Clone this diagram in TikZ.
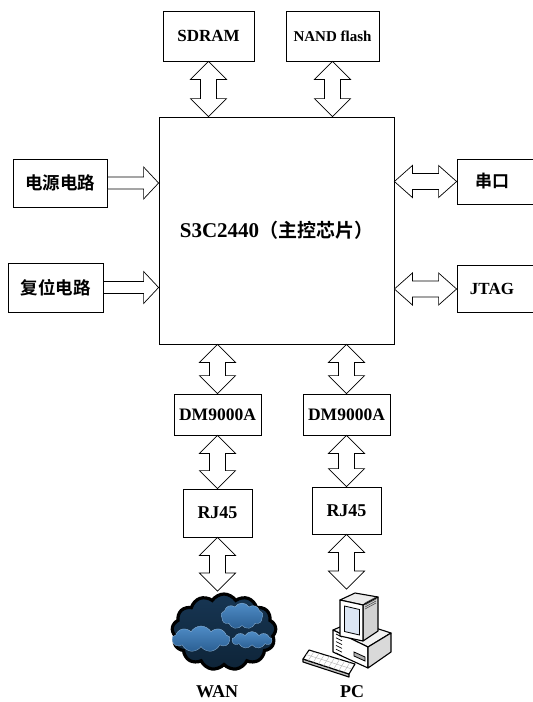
\documentclass[tikz,border=0pt]{standalone}
\usepackage{fontspec}
\setmainfont{Liberation Serif}
\newfontfamily\cjk{Noto Sans CJK SC}[BoldFont={Noto Sans CJK SC Bold}]
\usetikzlibrary{calc,shapes.symbols}

\definecolor{navy}{HTML}{0E2438}
\definecolor{skyb}{HTML}{4F8CC6}
\definecolor{skyd}{HTML}{2B5F93}
\definecolor{scr}{HTML}{DCE6F4}

\tikzset{
  blk/.style={draw, line width=0.8pt, fill=white, inner sep=0pt,
    font=\bfseries\fontsize{17}{17}\selectfont},
  hollow/.style={draw, line width=0.7pt, fill=white, line join=miter},
  lbl/.style={font=\bfseries\fontsize{18}{18}\selectfont},
  cjklbl/.style={font=\cjk\bfseries\fontsize{17.5}{17.5}\selectfont},
  puff/.style={cloud, cloud puffs=9, cloud puff arc=120, aspect=1.8,
    inner sep=0pt, draw=skyb!60!white, line width=0.3pt,
    top color=skyb, bottom color=skyd},
  pcline/.style={draw=black, line width=1.1pt, line join=round},
}

% vertical double arrow between a top tip and a bottom tip
\newcommand\vbi[2]{%
  \path[hollow] let \p1=#1, \p2=#2 in
    (\x1,\y1) -- (\x1+18pt,\y1-18pt) -- (\x1+8pt,\y1-18pt)
    -- (\x1+8pt,\y2+18pt) -- (\x1+18pt,\y2+18pt) -- (\x1,\y2)
    -- (\x1-18pt,\y2+18pt) -- (\x1-8pt,\y2+18pt)
    -- (\x1-8pt,\y1-18pt) -- (\x1-18pt,\y1-18pt) -- cycle;}
% horizontal single arrow from a tail (left) to a tip (right)
\newcommand\hin[2]{%
  \path[hollow] let \p1=#1, \p2=#2 in
    (\x1,\y1+6pt) -- (\x2-15pt,\y1+6pt) -- (\x2-15pt,\y1+16pt)
    -- (\x2,\y1) -- (\x2-15pt,\y1-16pt) -- (\x2-15pt,\y1-6pt)
    -- (\x1,\y1-6pt) -- cycle;}
% horizontal double arrow between a left tip and a right tip
\newcommand\hbi[2]{%
  \path[hollow] let \p1=#1, \p2=#2 in
    (\x1,\y1) -- (\x1+18pt,\y1+16pt) -- (\x1+18pt,\y1+8pt)
    -- (\x2-18pt,\y1+8pt) -- (\x2-18pt,\y1+16pt) -- (\x2,\y1)
    -- (\x2-18pt,\y1-16pt) -- (\x2-18pt,\y1-8pt)
    -- (\x1+18pt,\y1-8pt) -- (\x1+18pt,\y1-16pt) -- cycle;}

\begin{document}
\begin{tikzpicture}[x=1pt,y=-1pt]
\useasboundingbox (0,0) rectangle (533,702);
\fill[white] (0,0) rectangle (533,702);

% blocks
\node[blk, minimum width=91pt, minimum height=50pt] (sdram) at (208.5,36) {SDRAM};
\node[blk, minimum width=93pt, minimum height=50pt,
      font=\bfseries\fontsize{15}{15}\selectfont] (nand) at (332.5,36) {NAND flash};
\node[blk, minimum width=235pt, minimum height=227pt] (main) at (276.5,230.5)
  {\fontsize{21}{21}\selectfont S3C2440{\cjk\fontsize{19}{19}\selectfont（主控芯片）}};
\node[blk, cjklbl, minimum width=94pt, minimum height=48pt] (power) at (60,183) {电源电路};
\node[blk, cjklbl, minimum width=95pt, minimum height=49pt] (reset) at (55.5,287.5) {复位电路};
\node[blk, minimum width=90pt, minimum height=45pt] (uart) at (502,181.5)
  {\hspace*{-10pt}{\cjk\bfseries 串口}\hspace*{10pt}};
\node[blk, minimum width=90pt, minimum height=47pt] (jtag) at (502,289)
  {\hspace*{-10pt}JTAG\hspace*{10pt}};
\node[blk, minimum width=87pt, minimum height=41pt,
      font=\bfseries\fontsize{17.5}{17.5}\selectfont] (dma) at (217.5,414.5) {DM9000A};
\node[blk, minimum width=87pt, minimum height=41pt,
      font=\bfseries\fontsize{17.5}{17.5}\selectfont] (dmb) at (346.5,414.5) {DM9000A};
\node[blk, minimum width=69pt, minimum height=48pt,
      font=\bfseries\fontsize{18}{18}\selectfont] (rja) at (217.5,513) {RJ45};
\node[blk, minimum width=69pt, minimum height=47pt,
      font=\bfseries\fontsize{18}{18}\selectfont] (rjb) at (346.5,510.5) {RJ45};

% WAN cloud
\node[cloud, cloud puffs=13, cloud puff arc=115, aspect=1.45,
      minimum width=104pt, minimum height=76pt, draw=black, line width=3.2pt,
      top color=navy!70!skyd, bottom color=navy] (wan) at (224,632) {};
\node[puff, minimum width=42pt, minimum height=26pt] (puffa) at (242,616) {};
\node[puff, minimum width=58pt, minimum height=26pt] (puffb) at (201,639) {};
\node[puff, minimum width=40pt, minimum height=17pt] (puffc) at (252,640) {};
\coordinate (wantop) at (217.5,591);

% PC
\begin{scope}
  % case
  \path[pcline, fill=gray!10] (333,630) -- (354,621) -- (391,633) -- (368,647) -- cycle;
  \path[pcline, fill=white] (333,630) -- (368,647) -- (368,668) -- (333,652) -- cycle;
  \path[pcline, fill=gray!30] (368,647) -- (391,633) -- (391,652) -- (368,668) -- cycle;
  \foreach \k in {0,2,...,10}
    \draw[line width=0.7pt] (336,634+\k*0.9+\k) -- (342,637+\k*0.9+\k);
  \draw[line width=0.8pt, fill=gray!60] (354,652) -- (365,657) -- (365,661) -- (354,656) -- cycle;
  % monitor
  \path[pcline, fill=gray!15] (340,600) -- (355,593) -- (378,597) -- (363,605) -- cycle;
  \path[pcline, fill=gray!35] (363,605) -- (378,597) -- (378,631) -- (363,641) -- cycle;
  \foreach \k in {0,1,2,3}
    \draw[line width=0.6pt, black!70] (365,603+\k*2) -- (376,597+\k*2);
  \path[pcline, fill=white] (340,600) -- (363,605) -- (363,641) -- (340,636) -- cycle;
  \path[draw=black, line width=0.8pt, fill=scr] (344.5,606) -- (359.5,609.5) -- (359.5,635) -- (344.5,631.5) -- cycle;
  % keyboard
  \path[pcline, fill=gray!50] (303,659) -- (349,674) -- (349,677) -- (303,662) -- cycle;
  \path[pcline, fill=white] (309,650) -- (355,664) -- (349,674) -- (303,659) -- cycle;
  \foreach \k in {1,2,3,4,5,6,7,8}
    \draw[gray!60, line width=0.4pt] ($(309,650)!{\k/9}!(355,664)$) -- ($(303,659)!{\k/9}!(349,674)$);
  \draw[gray!60, line width=0.4pt] (306,654.5) -- (352,669);
\end{scope}
\coordinate (pctop) at (346.5,589);

% captions
\node[lbl] (wanlbl) at (217,692) {WAN};
\node[lbl] (pclbl) at (352,692) {PC};

% bus arrows
\vbi{(sdram.south)}{(sdram.south |- main.north)}
\vbi{(nand.south)}{(nand.south |- main.north)}
\hin{(power.east)}{(power.east -| main.west)}
\hin{(reset.east)}{(reset.east -| main.west)}
\hbi{(main.east |- uart.west)}{(uart.west)}
\hbi{(main.east |- jtag.west)}{(jtag.west)}
\vbi{(dma.north |- main.south)}{(dma.north)}
\vbi{(dmb.north |- main.south)}{(dmb.north)}
\vbi{(dma.south)}{(rja.north)}
\vbi{(dmb.south)}{(rjb.north)}
\vbi{(rja.south)}{(wantop)}
\vbi{(rjb.south)}{(pctop)}
\end{tikzpicture}
\end{document}
